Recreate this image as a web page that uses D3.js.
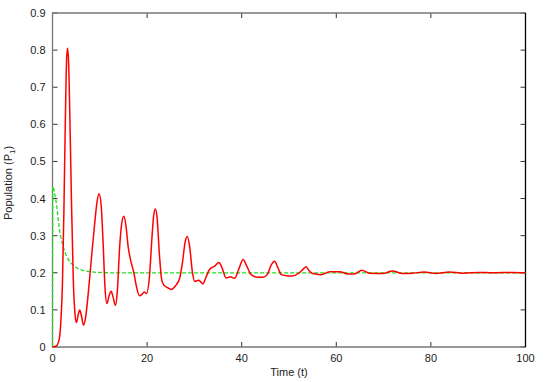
<!DOCTYPE html>
<html>
<head>
<meta charset="utf-8">
<script src="https://cdn.jsdelivr.net/npm/d3@7"></script>
<style>
  body{margin:0;background:#fff;}
  svg text{font-family:"Liberation Sans",Arial,sans-serif;font-size:11px;fill:#222;}
</style>
</head>
<body>
<div id="chart"></div>
<script>
// values
var redT=[0,0.8,1.4,1.75,2.1,2.4,2.7,3.0,3.2,3.45,3.7,4.0,4.4,4.75,5.05,5.4,5.75,6.1,6.55,7.0,7.6,8.3,8.9,9.4,9.85,10.3,10.7,11.1,11.5,11.9,12.4,12.8,13.3,13.7,14.2,14.6,15.06,15.5,16.0,16.5,17.2,17.8,18.4,19.0,19.4,19.85,20.5,21.0,21.4,21.75,22.1,22.6,23.1,23.6,24.3,25.1,26.0,26.9,27.5,28.0,28.5,29.0,29.6,30.05,30.9,31.8,32.5,33.2,34.3,35.2,35.8,36.7,37.6,38.5,39.4,40.3,41.0,42,43.4,44.5,45.4,46.2,46.95,47.6,48.4,49.5,50.5,52.2,53.0,53.6,54.3,55,56.8,58.6,60.7,62.4,63.8,65.4,67,69.8,71.9,74,76.2,78.6,81.1,83.9,86.7,90.2,93,97.3,100];
var redP=[0,0.003,0.02,0.065,0.17,0.36,0.6,0.78,0.805,0.75,0.6,0.4,0.18,0.09,0.066,0.085,0.1,0.085,0.059,0.08,0.15,0.25,0.33,0.39,0.413,0.38,0.28,0.16,0.117,0.135,0.15,0.135,0.112,0.15,0.27,0.33,0.352,0.33,0.27,0.235,0.2,0.16,0.138,0.143,0.148,0.144,0.19,0.29,0.355,0.372,0.35,0.25,0.18,0.166,0.16,0.155,0.165,0.186,0.23,0.28,0.298,0.27,0.2,0.177,0.18,0.17,0.19,0.209,0.218,0.228,0.215,0.186,0.189,0.185,0.21,0.236,0.22,0.195,0.188,0.188,0.195,0.22,0.231,0.215,0.195,0.192,0.191,0.2,0.21,0.216,0.205,0.198,0.195,0.203,0.203,0.197,0.197,0.207,0.199,0.198,0.205,0.198,0.199,0.202,0.198,0.202,0.199,0.201,0.2,0.201,0.2];
var greenT=[0,0.05,0.15,0.5,0.85,1.2,1.55,1.9,2.25,2.6,2.95,3.6,4.4,5.1,5.8,6.8,7.9,9.5,12,20,40,60,80,100];
var greenP=[0,0.43,0.433,0.41,0.385,0.345,0.31,0.288,0.271,0.256,0.245,0.23,0.22,0.213,0.209,0.205,0.203,0.201,0.2,0.2,0.2,0.2,0.2,0.2];
var xTicks=[0,20,40,60,80,100];
var yTicks=[0,0.1,0.2,0.3,0.4,0.5,0.6,0.7,0.8,0.9];

var W=545,H=382;
var m={left:52.5,right:19.5,top:13,bottom:35};
var svg=d3.select("#chart").append("svg").attr("width",W).attr("height",H);
var x=d3.scaleLinear().domain([0,100]).range([m.left,W-m.right]);
var y=d3.scaleLinear().domain([0,0.9]).range([H-m.bottom,m.top]);

// ticks (mirrored, inward), gnuplot style
var tk=5;
var g=svg.append("g");
g.selectAll(".xt").data(xTicks).enter().append("path")
  .attr("d",function(d){return "M"+x(d)+","+y(0)+"v"+(-tk)+"M"+x(d)+","+y(0.9)+"v"+tk;})
  .attr("stroke","#333").attr("stroke-width",1);
g.selectAll(".yt").data(yTicks).enter().append("path")
  .attr("d",function(d){return "M"+x(0)+","+y(d)+"h"+tk+"M"+x(100)+","+y(d)+"h"+(-tk);})
  .attr("stroke","#333").attr("stroke-width",1);

g.selectAll(".xl").data(xTicks).enter().append("text")
  .attr("x",function(d){return x(d);}).attr("y",y(0)+15)
  .attr("text-anchor","middle").text(function(d){return d;});
g.selectAll(".yl").data(yTicks).enter().append("text")
  .attr("x",x(0)-7).attr("y",function(d){return y(d)+4;})
  .attr("text-anchor","end").text(function(d){return d;});

// border: gray left/top/bottom, black right
svg.append("path").attr("d","M"+x(100)+","+y(0)+"H"+x(0)+"V"+y(0.9)+"H"+x(100))
  .attr("fill","none").attr("stroke","#777").attr("stroke-width",1.3);
svg.append("path").attr("d","M"+x(100)+","+y(0.9)+"V"+y(0))
  .attr("fill","none").attr("stroke","#000").attr("stroke-width",1.3);

var line=d3.line().x(function(d){return x(d[0]);}).y(function(d){return y(d[1]);})
  .curve(d3.curveMonotoneX);

svg.append("path").datum(greenT.map(function(t,i){return [t,greenP[i]];}))
  .attr("d",d3.line().x(function(d){return x(d[0]);}).y(function(d){return y(d[1]);}).curve(d3.curveLinear))
  .attr("fill","none").attr("stroke","#22dd22").attr("stroke-width",1.3)
  .attr("stroke-dasharray","4,2");
svg.append("path").datum(redT.map(function(t,i){return [t,redP[i]];}))
  .attr("d",line).attr("fill","none").attr("stroke","#ff0000").attr("stroke-width",1.5);

svg.append("text").attr("x",(x(0)+x(100))/2).attr("y",H-6)
  .attr("text-anchor","middle").text("Time (t)");
var yl=svg.append("text").attr("transform","translate(12,"+(y(0.45)+3)+") rotate(-90)")
  .attr("text-anchor","middle");
yl.append("tspan").text("Population (P");
yl.append("tspan").attr("font-size","8px").attr("dy",3).text("1");
yl.append("tspan").attr("dy",-3).text(")");
</script>
</body>
</html>
